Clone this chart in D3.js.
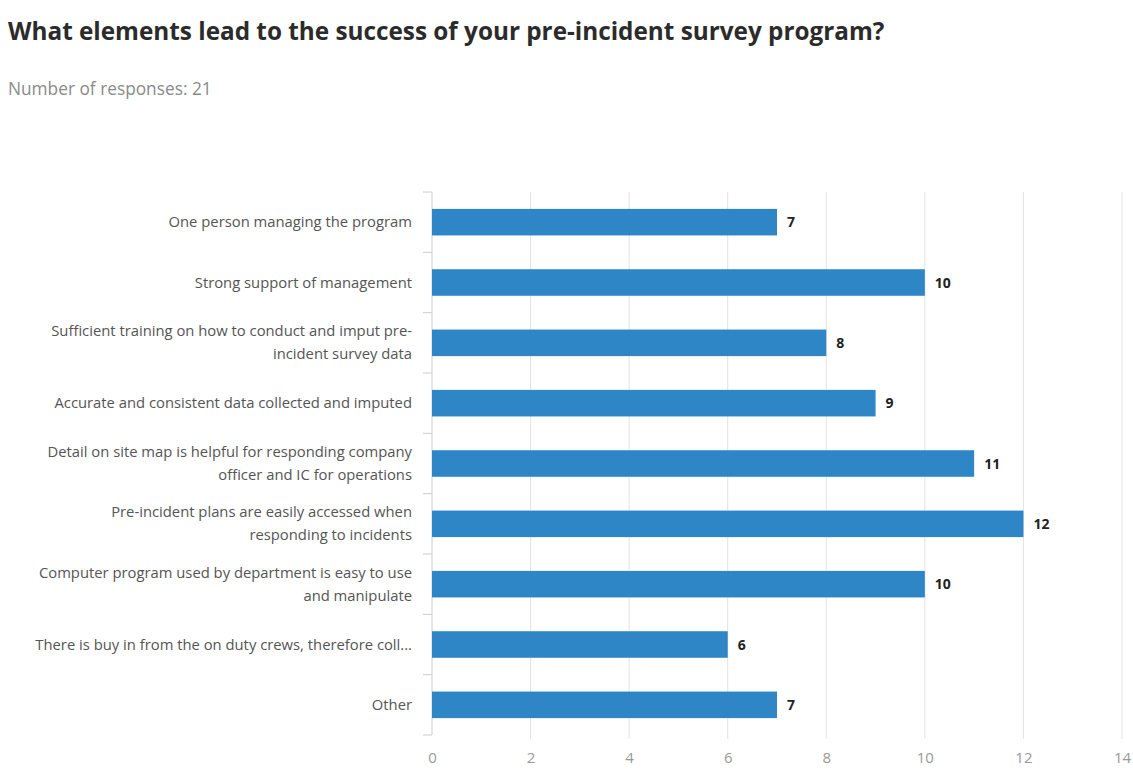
<!DOCTYPE html>
<html><head><meta charset="utf-8">
<script src="https://cdn.jsdelivr.net/npm/d3@7"></script>
<style>
body{margin:0;background:#fff;}
svg{display:block;font-family:"Open Sans",sans-serif;}
</style></head>
<body><svg id="c" width="1133" height="776"></svg>
<script>
const categories = [
  "One person managing the program",
  "Strong support of management",
  "Sufficient training on how to conduct and imput pre-\nincident survey data",
  "Accurate and consistent data collected and imputed",
  "Detail on site map is helpful for responding company\nofficer and IC for operations",
  "Pre-incident plans are easily accessed when\nresponding to incidents",
  "Computer program used by department is easy to use\nand manipulate",
  "There is buy in from the on duty crews, therefore coll...",
  "Other"
];
const values = [7, 10, 8, 9, 11, 12, 10, 6, 7];
const xTicks = [0, 2, 4, 6, 8, 10, 12, 14];
const title = "What elements lead to the success of your pre-incident survey program?";
const subtitle = "Number of responses: 21";

(function () {
const svg = d3.select("#c");
svg.append("text").attr("x", 8).attr("y", 40).attr("font-size", 24.3).attr("font-weight", 700)
  .attr("fill", "#2b2b2b").text(title);
svg.append("text").attr("x", 8).attr("y", 95).attr("font-size", 17.3).attr("fill", "#8a8a8a").text(subtitle);

const pLeft = 432, pRight = 1122, pTop = 192, pBottom = 735;
const x = d3.scaleLinear().domain([0, 14]).range([pLeft, pRight]);
const y = d3.scaleBand().domain(d3.range(categories.length)).range([pTop, pBottom]).paddingInner(0.56).paddingOuter(0.28);

svg.append("g").selectAll("line").data(xTicks.filter(d => d > 0)).join("line")
  .attr("x1", d => x(d)).attr("x2", d => x(d)).attr("y1", pTop).attr("y2", pBottom + 4)
  .attr("stroke", "#e3e3e3").attr("stroke-width", 1);

const xa = svg.append("g").attr("transform", `translate(0,${pBottom})`)
  .call(d3.axisBottom(x).tickValues(xTicks).tickSize(0).tickPadding(17));
xa.select(".domain").remove();
xa.selectAll("text").attr("font-size", 15).attr("fill", "#999").attr("font-family", "Open Sans, sans-serif");

svg.append("line").attr("x1", pLeft).attr("x2", pLeft).attr("y1", pTop).attr("y2", pBottom)
  .attr("stroke", "#ccc");
svg.append("g").selectAll("line").data(d3.range(categories.length + 1)).join("line")
  .attr("x1", pLeft - 9).attr("x2", pLeft)
  .attr("y1", i => pTop + i * (pBottom - pTop) / categories.length)
  .attr("y2", i => pTop + i * (pBottom - pTop) / categories.length)
  .attr("stroke", "#ccc");

svg.append("g").selectAll("rect").data(values).join("rect")
  .attr("x", x(0)).attr("y", (d, i) => y(i)).attr("height", y.bandwidth())
  .attr("width", d => x(d) - x(0)).attr("fill", "#2f86c6");

svg.append("g").selectAll("text").data(values).join("text")
  .attr("x", d => x(d) + 10).attr("y", (d, i) => y(i) + y.bandwidth() / 2 + 5)
  .attr("font-size", 14).attr("font-weight", 700).attr("fill", "#222").text(d => d);

const lab = svg.append("g").selectAll("text").data(categories).join("text")
  .attr("text-anchor", "end").attr("font-size", 14.8).attr("fill", "#555")
  .attr("transform", (d, i) => {
    const lines = d.split("\n");
    const cy = y(i) + y.bandwidth() / 2 - (lines.length - 1) * 11.5 + 5;
    return `translate(412,${cy})`;
  });
lab.each(function(d) {
  const lines = d.split("\n");
  d3.select(this).selectAll("tspan").data(lines).join("tspan")
    .attr("x", 0).attr("dy", (l, j) => j === 0 ? 0 : 23).text(l => l);
});
})();
</script></body></html>
